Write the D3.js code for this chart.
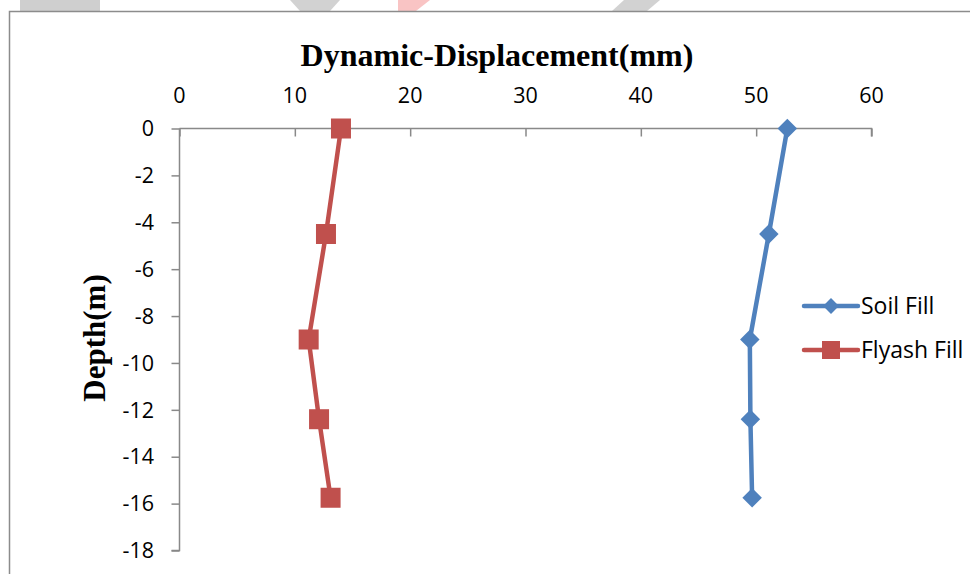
<!DOCTYPE html>
<html>
<head>
<meta charset="utf-8">
<script src="https://cdn.jsdelivr.net/npm/d3@7"></script>
<style>
	body { margin: 0; background: #fff; }
	svg { display: block; }
</style>
</head>
<body>
<svg id="svg"></svg>
<script>
var width = 970, height = 574;

// chart values
var depths = [0, -4.5, -9, -12.4, -15.75];
var soilFill = [52.7, 51.1, 49.45, 49.5, 49.65];
var flyashFill = [14.0, 12.7, 11.2, 12.1, 13.1];
var seriesNames = ["Soil Fill", "Flyash Fill"];
var xTicks = [0, 10, 20, 30, 40, 50, 60];
var yTicks = [0, -2, -4, -6, -8, -10, -12, -14, -16, -18];

var svg = d3.select("#svg")
	.attr("width", width)
	.attr("height", height);

plot();

function plot()
{
	var x = d3.scaleLinear()
		.domain([0, 60])
		.range([179.5, 871.5]);

	var y = d3.scaleLinear()
		.domain([-18, 0])
		.range([550.5, 128.5]);

	var colors = ["#4f81bd", "#c0504d"];

	// faded page bits showing above the chart frame
	var bg = svg.append("g");
	bg.append("rect").attr("x", 20).attr("y", 0).attr("width", 80).attr("height", 11).attr("fill", "#cfcfcf");
	bg.append("polygon").attr("points", "290,0 340,0 330,11 300,11").attr("fill", "#d2d2d2");
	bg.append("polygon").attr("points", "398,0 430,0 416,11 398,11").attr("fill", "#f9c4c4");
	bg.append("polygon").attr("points", "624,0 660,0 647,11 612,11").attr("fill", "#d2d2d2");

	// outer frame (only top and left visible)
	svg.append("path")
		.attr("d", "M9.5," + height + "V11.5H" + width)
		.attr("fill", "none")
		.attr("stroke", "#8c8c8c")
		.attr("stroke-width", 1.5);

	var xAxis = svg.append("g")
		.attr("transform", "translate(0," + y(0) + ")")
		.call(d3.axisBottom(x).tickValues(xTicks).tickSize(8).tickFormat(""));

	var yAxis = svg.append("g")
		.attr("transform", "translate(" + x(0) + ",0)")
		.call(d3.axisLeft(y).tickValues(yTicks).tickSize(8).tickFormat(""));

	svg.selectAll(".domain, .tick line")
		.attr("stroke", "#898989")
		.attr("stroke-width", 1.5);
	xAxis.select(".domain").attr("d", "M" + x(0) + ",0H" + x(60) + "V8");
	yAxis.select(".domain").attr("d", "M0," + y(0) + "V" + y(-18) + "H-8");

	svg.append("g")
		.attr("font-family", "Open Sans, sans-serif")
		.attr("font-size", 21.5)
		.attr("text-anchor", "middle")
		.selectAll("text")
		.data(xTicks)
		.enter()
		.append("text")
		.attr("x", function(d) { return x(d); })
		.attr("y", 103)
		.text(function(d) { return d; });

	svg.append("g")
		.attr("font-family", "Open Sans, sans-serif")
		.attr("font-size", 21.5)
		.attr("text-anchor", "end")
		.selectAll("text")
		.data(yTicks)
		.enter()
		.append("text")
		.attr("x", 154)
		.attr("y", function(d) { return y(d); })
		.attr("dy", "0.36em")
		.text(function(d) { return d; });

	svg.append("text")
		.attr("x", 497)
		.attr("y", 66)
		.attr("text-anchor", "middle")
		.attr("font-family", "Liberation Serif, serif")
		.attr("font-weight", "bold")
		.attr("font-size", 32)
		.text("Dynamic-Displacement(mm)");

	svg.append("text")
		.attr("transform", "translate(105,338) rotate(-90)")
		.attr("text-anchor", "middle")
		.attr("font-family", "Liberation Serif, serif")
		.attr("font-weight", "bold")
		.attr("font-size", 31)
		.text("Depth(m)");

	var series = [soilFill, flyashFill].map(function(vals, i) {
		return { name: seriesNames[i], points: vals.map(function(v, j) { return { x: v, y: depths[j] }; }) };
	});

	var line = d3.line()
		.x(function(d) { return x(d.x); })
		.y(function(d) { return y(d.y); });

	var diamond = d3.symbol().type(d3.symbolDiamond2);

	series.forEach(function(s, i) {
		var g = svg.append("g");
		g.append("path")
			.attr("d", line(s.points))
			.attr("fill", "none")
			.attr("stroke", colors[i])
			.attr("stroke-width", 4.5)
			.attr("stroke-linejoin", "round");

		if (i == 0) {
			g.selectAll("path.m")
				.data(s.points)
				.enter()
				.append("path")
				.attr("class", "m")
				.attr("transform", function(d) { return "translate(" + x(d.x) + "," + y(d.y) + ")"; })
				.attr("d", diamond.size(242))
				.attr("fill", colors[i]);
		} else {
			g.selectAll("rect")
				.data(s.points)
				.enter()
				.append("rect")
				.attr("x", function(d) { return x(d.x) - 10; })
				.attr("y", function(d) { return y(d.y) - 10; })
				.attr("width", 20)
				.attr("height", 20)
				.attr("fill", colors[i]);
		}
	});

	var legend = svg.append("g")
		.attr("font-family", "Open Sans, sans-serif")
		.attr("font-size", 23)
		.selectAll("g")
		.data(seriesNames)
		.enter()
		.append("g")
		.attr("transform", function(d, i) { return "translate(0," + (306 + i * 44) + ")"; });

	legend.append("line")
		.attr("x1", 804)
		.attr("x2", 858)
		.attr("stroke", function(d, i) { return colors[i]; })
		.attr("stroke-width", 4.5)
		.attr("stroke-linecap", "round");

	legend.filter(function(d, i) { return i == 0; })
		.append("path")
		.attr("transform", "translate(831,0)")
		.attr("d", diamond.size(160))
		.attr("fill", colors[0]);

	legend.filter(function(d, i) { return i == 1; })
		.append("rect")
		.attr("x", 822)
		.attr("y", -9)
		.attr("width", 18)
		.attr("height", 18)
		.attr("fill", colors[1]);

	legend.append("text")
		.attr("x", 861)
		.attr("y", 8)
		.text(function(d) { return d; });

	return;
}
</script>
</body>
</html>
